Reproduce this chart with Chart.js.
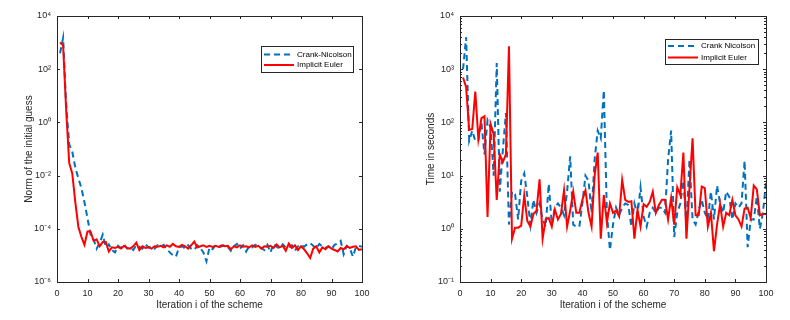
<!DOCTYPE html>
<html>
<head>
<meta charset="utf-8">
<script src="https://cdn.jsdelivr.net/npm/chart.js@4/dist/chart.umd.min.js"></script>
<style>
  body { margin: 0; background: #fff; }
  #wrap { position: relative; width: 790px; height: 320px; }
  canvas { position: absolute; top: 0; }
</style>
</head>
<body>
<div id="wrap">
  <canvas id="normChart" width="395" height="320" style="left:0"></canvas>
  <canvas id="timeChart" width="395" height="320" style="left:395px"></canvas>
</div>
<script>
// Iteration index of the scheme
const iterations = Array.from({ length: 100 }, (_, k) => k + 1);

// Left panel: norm of the initial guess
const normCN = [400, 1500, 5, 0.15, 0.08, 0.02, 0.008, 3.4e-3, 1e-3, 2.5e-4,
  6e-5, 4e-5, 1.8e-5, 3e-5, 6e-5, 2e-5, 2.6e-5, 1.6e-5, 1.3e-5, 2.3e-5,
  1.9e-5, 2.6e-5, 1.8e-5, 2e-5, 1.6e-5, 2.4e-5, 2.1e-5, 1.8e-5, 2.6e-5, 2e-5,
  2.2e-5, 1.8e-5, 2.4e-5, 2.1e-5, 2.5e-5, 1.7e-5, 1.3e-5, 1.0e-5, 9e-6, 2e-5,
  2.2e-5, 1.8e-5, 2.4e-5, 1.8e-5, 1.6e-5, 2.4e-5, 1.9e-5, 1.3e-5, 6e-6, 2e-5,
  1.7e-5, 2.4e-5, 2e-5, 2.2e-5, 2.5e-5, 2.1e-5, 1.5e-5, 2.2e-5, 2.7e-5, 1.8e-5,
  2.4e-5, 1.4e-5, 2.2e-5, 2e-5, 2.5e-5, 2.3e-5, 1.9e-5, 1.6e-5, 2.5e-5, 1.3e-5,
  2.8e-5, 2.1e-5, 1.8e-5, 2.6e-5, 2e-5, 1.9e-5, 2.4e-5, 1.5e-5, 2.2e-5, 2.5e-5,
  2.1e-5, 2.6e-5, 2.9e-5, 2.3e-5, 1.8e-5, 2.7e-5, 2.2e-5, 1.9e-5, 2.2e-5, 1.7e-5,
  2.5e-5, 2.8e-5, 3.5e-5, 1.1e-5, 2.3e-5, 1.9e-5, 9e-6, 2e-5, 2.3e-5, 2.1e-5];
const normIE = [1000, 800, 3, 0.03, 0.012, 1e-3, 1.2e-4, 5e-5, 2.5e-5, 8e-5,
  8e-5, 3.5e-5, 4e-5, 2.2e-5, 3.2e-5, 3.2e-5, 1.4e-5, 2e-5, 1.9e-5, 2.1e-5,
  1.8e-5, 2.3e-5, 1.9e-5, 1.8e-5, 2.2e-5, 3e-5, 1.6e-5, 2.2e-5, 1.9e-5, 2e-5,
  1.8e-5, 2.2e-5, 2.1e-5, 2.3e-5, 2.0e-5, 2.4e-5, 2.1e-5, 2.7e-5, 2.2e-5, 2.1e-5,
  2.5e-5, 2.2e-5, 1.8e-5, 2.4e-5, 3.3e-5, 2e-5, 2.2e-5, 2.4e-5, 2.1e-5, 2.3e-5,
  2.1e-5, 2.3e-5, 2.1e-5, 2.4e-5, 2.2e-5, 2.3e-5, 1.7e-5, 2.2e-5, 2.0e-5, 2.4e-5,
  2.1e-5, 2.2e-5, 2.0e-5, 2.4e-5, 2.1e-5, 2.3e-5, 1.8e-5, 2.2e-5, 2.1e-5, 2.3e-5,
  1.9e-5, 2.6e-5, 2e-5, 2.3e-5, 1.5e-5, 2.8e-5, 1.9e-5, 2.4e-5, 1.6e-5, 2.2e-5,
  1.7e-5, 1.2e-5, 8e-6, 1.8e-5, 2.2e-5, 1.3e-5, 2e-5, 1.7e-5, 2.2e-5, 1.8e-5,
  1.6e-5, 1.4e-5, 1.9e-5, 1.7e-5, 2.2e-5, 1.9e-5, 2.1e-5, 2.2e-5, 1.6e-5, 1.7e-5];

// Right panel: time in seconds
const timeCN = [1000, 4000, 45, 70, 45, 45, 100, 25, 110, 80,
  10, 1300, 5, 30, 150, 1.2, 5, 4.5, 1.5, 8,
  11, 4, 1.2, 3.5, 2, 3, 1.5, 1.1, 7, 1.2,
  2.5, 3, 2.5, 1.8, 5, 23, 1.2, 1.1, 1.1, 3,
  10, 8, 2, 20, 70, 50, 400, 2, 0.4, 1.2,
  2.5, 1.8, 2.5, 3, 2.8, 1.1, 3, 1.8, 6, 1.7,
  1.1, 2, 2.5, 2, 2.5, 2.5, 2, 20, 70, 0.7,
  2, 3, 8, 1.2, 20, 1.5, 1.2, 2.2, 3.5, 2,
  1.5, 5, 1.5, 6.5, 3, 2, 5, 4, 1.5, 3,
  2.5, 3, 19, 0.45, 1.5, 1.5, 4, 1, 2, 7.5];
const timeIE = [700, 460, 72, 75, 380, 49, 120, 130, 1.66, 93,
  60, 3.5, 25, 18, 25, 2700, 0.65, 1.05, 1.05, 1.15,
  4.3, 1.4, 1.1, 1.9, 2.2, 8.5, 0.65, 1.5, 1.6, 1.1,
  2.3, 1.5, 1.9, 5.3, 1.1, 2.2, 5, 2, 2, 3.5,
  5.3, 2, 1.1, 10, 27, 0.65, 4.3, 1.3, 3, 2,
  2.2, 1.7, 8.3, 3.5, 3.2, 3.3, 0.65, 2.3, 1.1, 2.9,
  2.6, 3.2, 5, 2, 2.8, 3.5, 3.5, 1.5, 3.8, 1.2,
  6, 4.3, 27, 0.65, 6, 50, 1.8, 1.8, 6.2, 5.8,
  1.1, 2, 0.38, 1.2, 2.9, 1.1, 2, 1.8, 3.5, 1.8,
  1.5, 1.1, 2.4, 2.5, 1.6, 6.5, 5.5, 1.8, 1.9, 1.9];

// Tick values
const xTicks = [0, 10, 20, 30, 40, 50, 60, 70, 80, 90, 100];
const normTicks = [1e-6, 1e-4, 1e-2, 1e0, 1e2, 1e4];
const timeTicks = [1e-1, 1e0, 1e1, 1e2, 1e3, 1e4];

const BLUE = '#0072BD';
const RED = '#FF0000';
const AXIS = '#262626';
const FONT = '"Liberation Sans", Arial, sans-serif';

const sup = { '-': '⁻', '0': '⁰', '1': '¹', '2': '²', '3': '³', '4': '⁴', '5': '⁵', '6': '⁶', '7': '⁷', '8': '⁸', '9': '⁹' };
function powLabel(v) {
  const e = Math.round(Math.log10(v));
  return '10' + String(e).split('').map(c => sup[c]).join('');
}

function pts(vals) {
  return iterations.map((x, k) => ({ x: x, y: vals[k] }));
}

// box with inward ticks, MATLAB style
const framePlugin = {
  id: 'frame',
  afterDatasetsDraw(chart, args, opts) {
    const { ctx, chartArea: a, scales } = chart;
    ctx.save();
    ctx.strokeStyle = AXIS;
    ctx.lineWidth = 1;
    ctx.strokeRect(a.left + 0.5, a.top + 0.5, a.right - a.left, a.bottom - a.top);
    ctx.beginPath();
    xTicks.forEach(v => {
      const px = Math.round(scales.x.getPixelForValue(v)) + 0.5;
      ctx.moveTo(px, a.bottom); ctx.lineTo(px, a.bottom - 3);
      ctx.moveTo(px, a.top); ctx.lineTo(px, a.top + 3);
    });
    const ys = scales.y;
    opts.ticks.forEach(v => {
      const py = Math.round(ys.getPixelForValue(v)) + 0.5;
      ctx.moveTo(a.left, py); ctx.lineTo(a.left + 3, py);
      ctx.moveTo(a.right, py); ctx.lineTo(a.right - 3, py);
    });
    if (opts.minor) {
      for (let k = 0; k < opts.ticks.length - 1; k++) {
        for (let m = 2; m <= 9; m++) {
          const py = Math.round(ys.getPixelForValue(opts.ticks[k] * m)) + 0.5;
          ctx.moveTo(a.left, py); ctx.lineTo(a.left + 2, py);
          ctx.moveTo(a.right, py); ctx.lineTo(a.right - 2, py);
        }
      }
    }
    ctx.stroke();
    ctx.restore();
  }
};

// legend box inside the axes
const legendPlugin = {
  id: 'boxLegend',
  afterDraw(chart, args, opts) {
    const { ctx } = chart;
    const b = opts.box;
    ctx.save();
    ctx.fillStyle = '#fff';
    ctx.fillRect(b.x, b.y, b.w, b.h);
    ctx.strokeStyle = AXIS;
    ctx.lineWidth = 1;
    ctx.strokeRect(b.x + 0.5, b.y + 0.5, b.w, b.h);
    chart.data.datasets.forEach((ds, k) => {
      const y = b.y + opts.rows[k];
      ctx.beginPath();
      ctx.setLineDash(ds.borderDash || []);
      ctx.strokeStyle = ds.borderColor;
      ctx.lineWidth = ds.borderWidth;
      ctx.moveTo(b.x + 3, y);
      ctx.lineTo(b.x + 33, y);
      ctx.stroke();
      ctx.setLineDash([]);
      ctx.fillStyle = '#000';
      ctx.font = '8px ' + FONT;
      ctx.textBaseline = 'middle';
      ctx.fillText(ds.label, b.x + 36, y);
    });
    ctx.restore();
  }
};

function makeChart(id, cfg) {
  return new Chart(document.getElementById(id), {
    type: 'line',
    data: {
      datasets: [{
        label: cfg.labels[0],
        data: pts(cfg.cn),
        borderColor: BLUE,
        borderWidth: 2,
        borderDash: [6, 4],
        pointRadius: 0,
        tension: 0,
        fill: false,
        order: 1
      }, {
        label: cfg.labels[1],
        data: pts(cfg.ie),
        borderColor: RED,
        borderWidth: 2,
        pointRadius: 0,
        tension: 0,
        fill: false,
        order: 0
      }]
    },
    options: {
      responsive: false,
      animation: false,
      layout: { padding: { left: 0, right: cfg.padRight, top: 16, bottom: 0 } },
      plugins: {
        legend: { display: false },
        tooltip: { enabled: false },
        frame: { ticks: cfg.yTicks, minor: cfg.minor },
        boxLegend: { box: cfg.legendBox, rows: cfg.legendRows }
      },
      scales: {
        x: {
          type: 'linear',
          min: 0,
          max: 100,
          afterFit(s) { s.height = 38; },
          afterBuildTicks(s) { s.ticks = xTicks.map(v => ({ value: v })); },
          grid: { display: false, drawTicks: false },
          border: { display: false },
          ticks: { color: AXIS, font: { family: FONT, size: 9 }, padding: 6, maxRotation: 0 },
          title: {
            display: true,
            text: 'Iteration i of the scheme',
            color: AXIS,
            font: { family: FONT, size: 10 },
            padding: { top: 0, bottom: 9 }
          }
        },
        y: {
          type: 'logarithmic',
          min: cfg.yTicks[0],
          max: cfg.yTicks[cfg.yTicks.length - 1],
          afterFit(s) { s.width = cfg.yWidth; },
          afterBuildTicks(s) { s.ticks = cfg.yTicks.map(v => ({ value: v, major: true })); },
          grid: { display: false, drawTicks: false },
          border: { display: false },
          ticks: { color: AXIS, font: { family: FONT, size: 9 }, padding: 6, callback: powLabel },
          title: {
            display: true,
            text: cfg.yTitle,
            color: AXIS,
            font: { family: FONT, size: 10 },
            padding: { top: cfg.yTitlePad, bottom: 0 }
          }
        }
      }
    },
    plugins: [framePlugin, legendPlugin]
  });
}

makeChart('normChart', {
  cn: normCN, ie: normIE,
  labels: ['Crank-Nicolson', 'Implicit Euler'],
  yTicks: normTicks, minor: false,
  yTitle: 'Norm of the initial guess',
  yWidth: 57, padRight: 33, yTitlePad: 23,
  legendBox: { x: 261, y: 46, w: 92, h: 26 },
  legendRows: [8.5, 19]
});

makeChart('timeChart', {
  cn: timeCN, ie: timeIE,
  labels: ['Crank Nicolson', 'Implicit Euler'],
  yTicks: timeTicks, minor: true,
  yTitle: 'Time in seconds',
  yWidth: 65, padRight: 24, yTitlePad: 30,
  legendBox: { x: 270, y: 39, w: 93, h: 25 },
  legendRows: [7, 18.5]
});
</script>
</body>
</html>
